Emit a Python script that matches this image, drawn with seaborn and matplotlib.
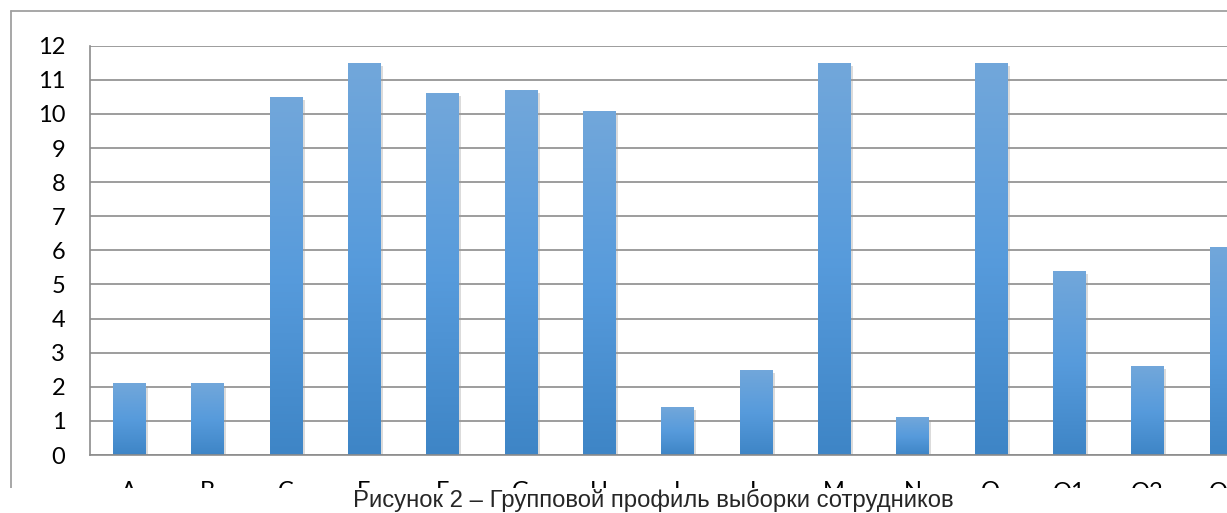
import numpy as np
import pandas as pd
import seaborn as sns
import matplotlib.pyplot as plt
from matplotlib import patheffects
from matplotlib.colors import LinearSegmentedColormap
from matplotlib.lines import Line2D
from matplotlib.patches import Rectangle

factors = ["A", "B", "C", "E", "F", "G", "H", "I", "L", "M", "N", "O", "Q1", "Q2", "Q3"]
scores = [2.1, 2.1, 10.5, 11.5, 10.6, 10.7, 10.1, 1.4, 2.5, 11.5, 1.1, 11.5, 5.4, 2.6, 6.1]
y_ticks = list(range(0, 13))
caption = "Рисунок 2 – Групповой профиль выборки сотрудников"

df = pd.DataFrame({"factor": factors, "score": scores})

sns.set_style("white")
plt.rcParams['font.family'] = ['Lato', 'DejaVu Sans']

W, H = 1227, 513
fig = plt.figure(figsize=(W / 100, H / 100), dpi=100)
# plot area runs past the right edge, like the cropped original
ax = fig.add_axes([90 / W, 58 / H, 78.33 * 15 / W, 409.3 / H])

sns.barplot(data=df, x="factor", y="score", color="#5b9bd5", width=0.41,
            saturation=1, ax=ax)

# excel-like vertical gradient + soft shadow
cmap = LinearSegmentedColormap.from_list("xl", ["#3e85c6", "#579bdc", "#72a7da"])
grad = np.linspace(0, 1, 256).reshape(-1, 1)
for p in ax.patches:
    x0, y0, w, h = p.get_x(), p.get_y(), p.get_width(), p.get_height()
    p.set_facecolor("none")
    p.set_edgecolor("none")
    p.set_path_effects([patheffects.SimplePatchShadow(offset=(2, -2), shadow_rgbFace="#9a9a9a", alpha=0.35)])
    im = ax.imshow(grad, extent=[x0, x0 + w, y0, y0 + h], origin="lower",
                   cmap=cmap, aspect="auto", zorder=p.get_zorder() + 0.1)
    im.set_clip_path(p)

ax.set_xlim(-0.5, len(factors) - 0.5)
ax.set_ylim(0, 12)
ax.set_yticks(y_ticks)
ax.set_xlabel("")
ax.set_ylabel("")

grey = "#8c8c8c"
ax.set_axisbelow(True)
ax.grid(axis="y", color=grey, lw=1.2)
ax.grid(axis="x", visible=False)
sns.despine(ax=ax, top=True, right=True)
for s in ["left", "bottom"]:
    ax.spines[s].set_color(grey)
    ax.spines[s].set_linewidth(1.2)

ax.tick_params(axis="y", length=5.8, width=1.2, color=grey, pad=12, labelsize=17, labelcolor="black")
ax.tick_params(axis="x", which="major", length=0, pad=19, labelsize=17, labelcolor="black")
ax.set_xticks(np.arange(-0.5, len(factors), 1), minor=True)
ax.tick_params(axis="x", which="minor", length=5.8, width=1.2, color=grey, direction="out")

# chart border
fig.add_artist(Line2D([11 / W, 11 / W], [1 - 11 / H, 0], transform=fig.transFigure, color="#a0a0a0", lw=1.3))
fig.add_artist(Line2D([11 / W, 1], [1 - 11 / H, 1 - 11 / H], transform=fig.transFigure, color="#a0a0a0", lw=1.3))

# caption sits on white over the cut-off labels
fig.add_artist(Rectangle((0, 0), 1, (H - 488) / H, transform=fig.transFigure,
                         facecolor="white", edgecolor="none", zorder=10))
fig.text(653 / W, 5.5 / H, caption, ha="center", va="baseline", fontsize=17.2,
         family=["Liberation Sans", "DejaVu Sans"], zorder=11)

fig.savefig("out.png", dpi=100)
